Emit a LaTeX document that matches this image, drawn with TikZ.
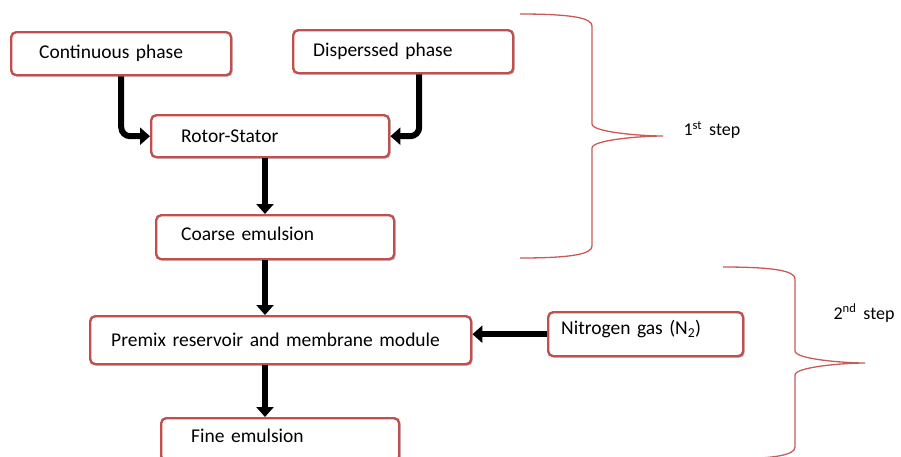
\documentclass[tikz,border=0pt]{standalone}
\usepackage{fontspec}
\setmainfont{Carlito}
\usepackage{tikz}
\usetikzlibrary{arrows.meta,shapes,shadows}
\definecolor{boxred}{RGB}{192,80,77}
\definecolor{bracered}{RGB}{200,90,88}
\newcommand{\lift}[1]{\rule[-#1]{0pt}{#1}}

\begin{document}
\begin{tikzpicture}[x=1pt,y=1pt,>={Triangle[length=10pt,width=17pt]}]
  \tikzstyle{box}=[rectangle,draw=boxred,line width=2.4pt,rounded corners=5pt,
              fill=white,drop shadow={shadow xshift=1.5pt,shadow yshift=-1.5pt,opacity=0.45,fill=black!60},
              anchor=north west,inner xsep=0pt,text width=#1,align=left,
              font=\fontsize{19.5}{22}\selectfont]
  \tikzstyle{flow}=[->,line width=6pt,black]
  \tikzstyle{brace}=[draw=bracered,line width=1.3pt]
  \useasboundingbox (0,0) rectangle (901,-456);
    \coordinate (col) at (265,0);
    \node [box=220pt,minimum height=43pt] (cont) at (10,-31) {\hspace*{28pt}Continuous phase};
    \node [box=220pt,minimum height=43pt] (disp) at (292,-29) {\hspace*{20pt}Disperssed phase};
    \node [box=238pt,minimum height=42pt] (rotor) at (150,-114) {\hspace*{30pt}Rotor-Stator};
    \node [box=238pt,minimum height=44pt] (coarse) at (155,-214) {\hspace*{25pt}Coarse emulsion\lift{6pt}};
    \node [box=381pt,minimum height=48pt] (premix) at (89,-315) {\hspace*{21pt}Premix reservoir and membrane module};
    \node [box=195pt,minimum height=44pt] (nitro) at (547,-311) {\hspace*{13pt}Nitrogen gas (N\textsubscript{2})\lift{14pt}};
    \node [box=238pt,minimum height=43pt] (fine) at (160,-417) {\hspace*{30pt}Fine emulsion\lift{8pt}};
    \draw [flow,rounded corners=9pt] (cont.south) |- (rotor.west);
    \draw [flow,rounded corners=9pt] ([xshift=16pt]disp.south) |- (rotor.east);
    \draw [flow] (rotor.south -| col) -- (coarse.north -| col);
    \draw [flow] (coarse.south -| col) -- (premix.north -| col);
    \draw [flow] (nitro.west) -- (nitro.west -| premix.east);
    \draw [flow] (premix.south -| col) -- (fine.north -| col);
    % braces
    \draw [brace] (520,-14) .. controls (572,-14) and (592,-18) .. (592,-26) -- (592,-124)
      .. controls (592,-132) and (640,-136) .. (663,-136)
      .. controls (640,-136) and (592,-140) .. (592,-148) -- (592,-246)
      .. controls (592,-254) and (572,-258) .. (520,-258);
    \draw [brace] (723,-267) .. controls (775,-267) and (795,-271) .. (795,-279) -- (795,-351)
      .. controls (795,-359) and (843,-363) .. (865,-363)
      .. controls (843,-363) and (795,-367) .. (795,-375) -- (795,-447)
      .. controls (795,-455) and (775,-459) .. (723,-459);
    \node [anchor=west,font=\fontsize{18}{22}\selectfont] (step1) at (680,-130) {1\textsuperscript{st} \,step};
    \node [anchor=west,font=\fontsize{18}{22}\selectfont] (step2) at (830,-313) {2\textsuperscript{nd} \,step};
\end{tikzpicture}
\end{document}
